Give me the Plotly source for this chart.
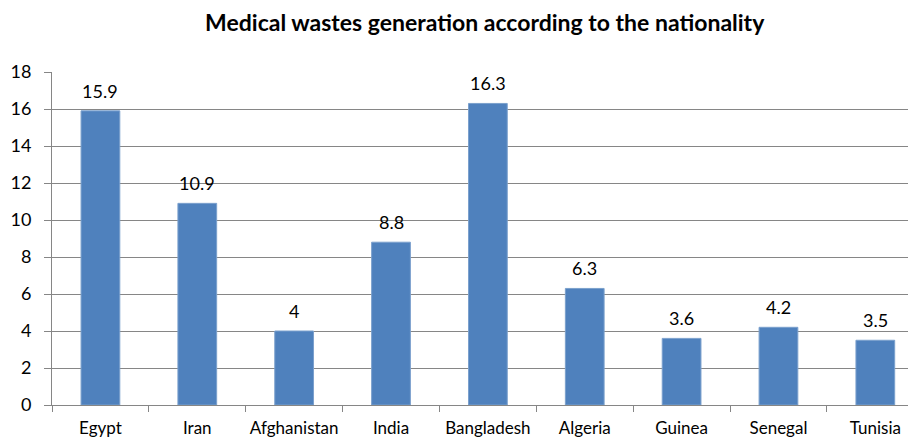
import plotly.graph_objects as go

countries = ["Egypt", "Iran", "Afghanistan", "India", "Bangladesh",
             "Algeria", "Guinea", "Senegal", "Tunisia"]
waste = [15.9, 10.9, 4, 8.8, 16.3, 6.3, 3.6, 4.2, 3.5]
y_ticks = list(range(0, 19, 2))

FONT = "Lato, 'Open Sans', sans-serif"
AXIS_GREY = "#868686"

# the page body has an 8px margin, so the figure is sized to fill the rest
fig = go.Figure(
    go.Bar(
        x=list(range(len(countries))),
        y=waste,
        width=0.4,
        marker=dict(color="#4F81BD", line=dict(color="#7BA0CD", width=1)),
        hoverinfo="skip",
    )
)

# value labels sit a little above each bar
for i, v in enumerate(waste):
    fig.add_annotation(x=i, y=v, text=f"{v:g}", showarrow=False,
                       yanchor="bottom", yshift=7,
                       font=dict(family=FONT, size=18, color="#000000"))

fig.update_layout(
    width=908,
    height=429,
    margin=dict(l=44, r=0, t=64, b=32),
    plot_bgcolor="white",
    paper_bgcolor="white",
    showlegend=False,
    title=dict(
        text="<b>Medical wastes generation according to the nationality</b>",
        x=0.525, xanchor="center", y=0.965, yanchor="middle",
        font=dict(family=FONT, size=23, color="#000000"),
    ),
)

fig.update_xaxes(
    range=[-0.5, 8.42],
    tickmode="array",
    tickvals=list(range(len(countries))),
    ticktext=countries,
    ticks="",
    showgrid=False,
    showline=True, linecolor=AXIS_GREY, linewidth=1,
    tickfont=dict(family=FONT, size=17, color="#000000"),
    ticklabelstandoff=8,
    minor=dict(tickmode="array", tickvals=[i - 0.5 for i in range(len(countries) + 1)],
               ticks="outside", ticklen=6, tickcolor=AXIS_GREY, showgrid=False),
    automargin=False,
    fixedrange=True,
)

fig.update_yaxes(
    range=[0, 18],
    tickmode="array",
    tickvals=y_ticks,
    ticks="outside", ticklen=7, tickcolor=AXIS_GREY,
    showgrid=True, gridcolor=AXIS_GREY, gridwidth=1,
    showline=True, linecolor=AXIS_GREY, linewidth=1,
    zeroline=False,
    tickfont=dict(family=FONT, size=18, color="#000000"),
    ticklabelstandoff=9,
    automargin=False,
    fixedrange=True,
)

fig.write_html("out.html")
